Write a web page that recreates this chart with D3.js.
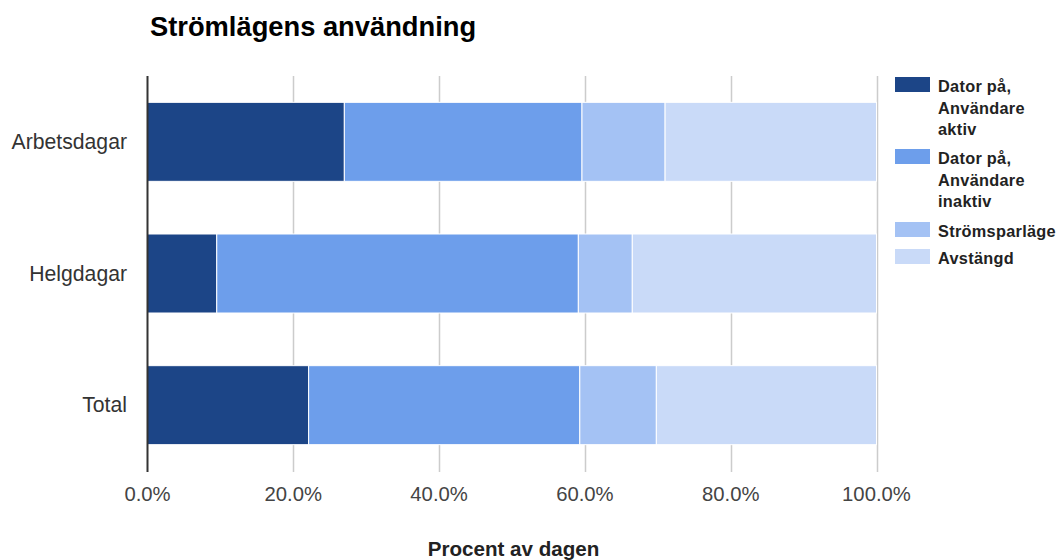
<!DOCTYPE html>
<html>
<head>
<meta charset="utf-8">
<script src="https://cdn.jsdelivr.net/npm/d3@7"></script>
<style>
  html, body { margin: 0; padding: 0; background: #fff; }
  svg { display: block; font-family: "Liberation Sans", Arial, sans-serif; }
</style>
</head>
<body>
<svg id="chart" width="1062" height="560"></svg>
<script>
// Share of the day spent in each power state (percent)
const categories = ["Arbetsdagar", "Helgdagar", "Total"];
const seriesNames = [
  "Dator på, Användare aktiv",
  "Dator på, Användare inaktiv",
  "Strömsparläge",
  "Avstängd"
];
const legendLines = [
  ["Dator på,", "Användare", "aktiv"],
  ["Dator på,", "Användare", "inaktiv"],
  ["Strömsparläge"],
  ["Avstängd"]
];
const aktiv    = [27.0, 9.5, 22.1];
const inaktiv  = [32.6, 49.6, 37.2];
const sparlage = [11.4, 7.4, 10.5];
const avstangd = [29.0, 33.5, 30.2];
const xTicks = [0, 20, 40, 60, 80, 100];
const colors = ["#1c4587", "#6d9eeb", "#a4c2f4", "#c9daf8"];

const rows = categories.map((c, i) => ({
  cat: c,
  [seriesNames[0]]: aktiv[i],
  [seriesNames[1]]: inaktiv[i],
  [seriesNames[2]]: sparlage[i],
  [seriesNames[3]]: avstangd[i]
}));

const svg = d3.select("#chart");
const plot = { left: 147.5, right: 876.5, top: 76, bottom: 471 };

const x = d3.scaleLinear().domain([0, 100]).range([plot.left, plot.right]);
const y = d3.scaleBand().domain(categories).range([plot.top, plot.bottom])
  .paddingInner(0.4).paddingOuter(0.2);
const color = d3.scaleOrdinal().domain(seriesNames).range(colors);

// Title
svg.append("text")
  .attr("x", 150).attr("y", 36)
  .attr("font-size", 27.3).attr("font-weight", "bold").attr("fill", "#000")
  .text("Strömlägens användning");

// Vertical gridlines
svg.append("g").selectAll("line").data(xTicks.filter(d => d > 0)).join("line")
  .attr("x1", d => Math.round(x(d)) + 0.5).attr("x2", d => Math.round(x(d)) + 0.5)
  .attr("y1", plot.top).attr("y2", plot.bottom + 1)
  .attr("stroke", "#cccccc").attr("stroke-width", 1.5);

// Stacked bars
const stacked = d3.stack().keys(seriesNames)(rows);
svg.append("g").selectAll("g").data(stacked).join("g")
  .attr("fill", d => color(d.key))
  .selectAll("rect").data(d => d).join("rect")
  .attr("x", d => x(d[0]))
  .attr("y", d => y(d.data.cat))
  .attr("width", d => x(d[1]) - x(d[0]))
  .attr("height", y.bandwidth())
  .attr("stroke", "#ffffff").attr("stroke-width", 1);

// Baseline at zero
svg.append("line")
  .attr("x1", x(0)).attr("x2", x(0))
  .attr("y1", plot.top).attr("y2", plot.bottom + 1)
  .attr("stroke", "#333333").attr("stroke-width", 2);

// X tick labels
svg.append("g").selectAll("text").data(xTicks).join("text")
  .attr("x", d => x(d)).attr("y", 501)
  .attr("text-anchor", "middle").attr("font-size", 20.3).attr("fill", "#444")
  .text(d => d3.format(".1f")(d) + "%");

// Category labels
svg.append("g").selectAll("text").data(categories).join("text")
  .attr("x", 127).attr("y", d => y(d) + y.bandwidth() / 2 + 7)
  .attr("text-anchor", "end").attr("font-size", 21.2).attr("fill", "#333")
  .text(d => d);

// Axis title
svg.append("text")
  .attr("x", (plot.left + plot.right) / 2 + 1.5).attr("y", 556)
  .attr("text-anchor", "middle").attr("font-size", 20.6).attr("font-weight", "bold").attr("fill", "#222")
  .text("Procent av dagen");

// Legend
const legendTops = [77, 149, 222, 249];
const lg = svg.append("g").selectAll("g").data(seriesNames).join("g")
  .attr("transform", (d, i) => `translate(895,${legendTops[i]})`);
lg.append("rect").attr("width", 35).attr("height", 15).attr("fill", d => color(d));
lg.append("text")
  .attr("font-size", 16.3).attr("font-weight", "bold").attr("fill", "#222")
  .attr("letter-spacing", 0.3)
  .selectAll("tspan").data((d, i) => legendLines[i]).join("tspan")
  .attr("x", 43).attr("y", (d, j) => 15 + j * 21.7)
  .text(d => d);
</script>
</body>
</html>
